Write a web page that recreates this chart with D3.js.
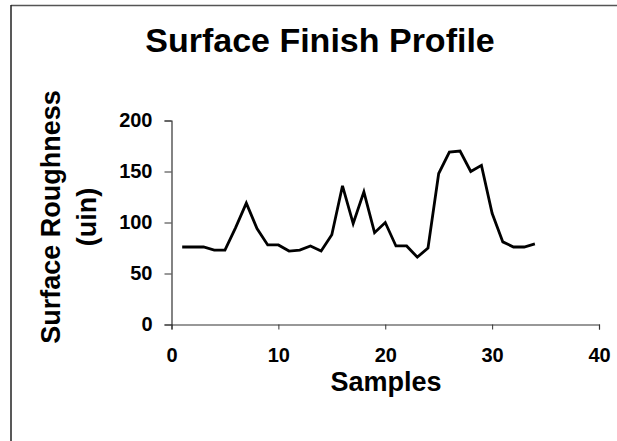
<!DOCTYPE html>
<html>
<head>
<meta charset="utf-8">
<script src="https://cdn.jsdelivr.net/npm/d3@7"></script>
<style>
html,body{margin:0;padding:0;background:#fff;}
svg{display:block;}
text{font-family:"Liberation Sans",Arial,sans-serif;font-weight:bold;fill:#000;}
</style>
</head>
<body>
<script>
const samples = [1,2,3,4,5,6,7,8,9,10,11,12,13,14,15,16,17,18,19,20,21,22,23,24,25,26,27,28,29,30,31,32,33,34];
const roughness = [76,76,76,73,73,95,119,94,78,78,72,73,77,72,88,136,99,130,90,100,77,77,66,75,148,169,170,150,156,109,81,76,76,79];
const xTicks = [0,10,20,30,40];
const yTicks = [0,50,100,150,200];
const title = "Surface Finish Profile";
const xLabel = "Samples";
const yLabel1 = "Surface Roughness";
const yLabel2 = "(uin)";

const W = 617, H = 441;
const svg = d3.select("body").append("svg").attr("width", W).attr("height", H);

// chart frame (top and left edges visible)
svg.append("line").attr("x1",11).attr("y1",5.5).attr("x2",W).attr("y2",5.5).attr("stroke","#555").attr("stroke-width",1.5);
svg.append("line").attr("x1",11).attr("y1",5).attr("x2",11).attr("y2",H).attr("stroke","#222").attr("stroke-width",1.5);

const x = d3.scaleLinear().domain([0,40]).range([171.5,599]);
const y = d3.scaleLinear().domain([0,200]).range([324.5,120.5]);

const fontStyle = sel => sel.style("font-size","20px")
  .style("font-family","'Liberation Sans',Arial,sans-serif")
  .style("font-weight","bold").attr("fill","#000");

// x axis
const xAxis = svg.append("g").attr("transform",`translate(0,${y(0)})`)
  .call(d3.axisBottom(x).tickValues(xTicks).tickSize(5).tickPadding(18).tickFormat(d3.format("d")));
xAxis.select(".domain").attr("stroke","#333").attr("stroke-width",1.2);
xAxis.selectAll(".tick line").attr("stroke","#333");
xAxis.selectAll("text").call(fontStyle);

// y axis
const yAxis = svg.append("g").attr("transform",`translate(${x(0)},0)`)
  .call(d3.axisLeft(y).tickValues(yTicks).tickSize(7).tickPadding(12).tickFormat(d3.format("d")));
yAxis.select(".domain").attr("stroke","#333").attr("stroke-width",1.2);
yAxis.selectAll(".tick line").attr("stroke","#333");
yAxis.selectAll("text").call(fontStyle);

// line
const line = d3.line().x((d,i)=>x(samples[i])).y(d=>y(d));
svg.append("path").datum(roughness).attr("d",line)
  .attr("fill","none").attr("stroke","#000").attr("stroke-width",2.8).attr("stroke-linejoin","miter");

// title
svg.append("text").attr("x",320).attr("y",52).attr("text-anchor","middle")
  .style("font-size","34px").text(title);

// x label
svg.append("text").attr("x",386).attr("y",391).attr("text-anchor","middle")
  .style("font-size","27px").text(xLabel);

// y label (two lines, rotated)
const yl = svg.append("g").attr("transform","translate(0,217) rotate(-90)");
yl.append("text").attr("x",0).attr("y",60).attr("text-anchor","middle").style("font-size","27px").text(yLabel1);
yl.append("text").attr("x",0).attr("y",96).attr("text-anchor","middle").style("font-size","27px").text(yLabel2);
</script>
</body>
</html>
